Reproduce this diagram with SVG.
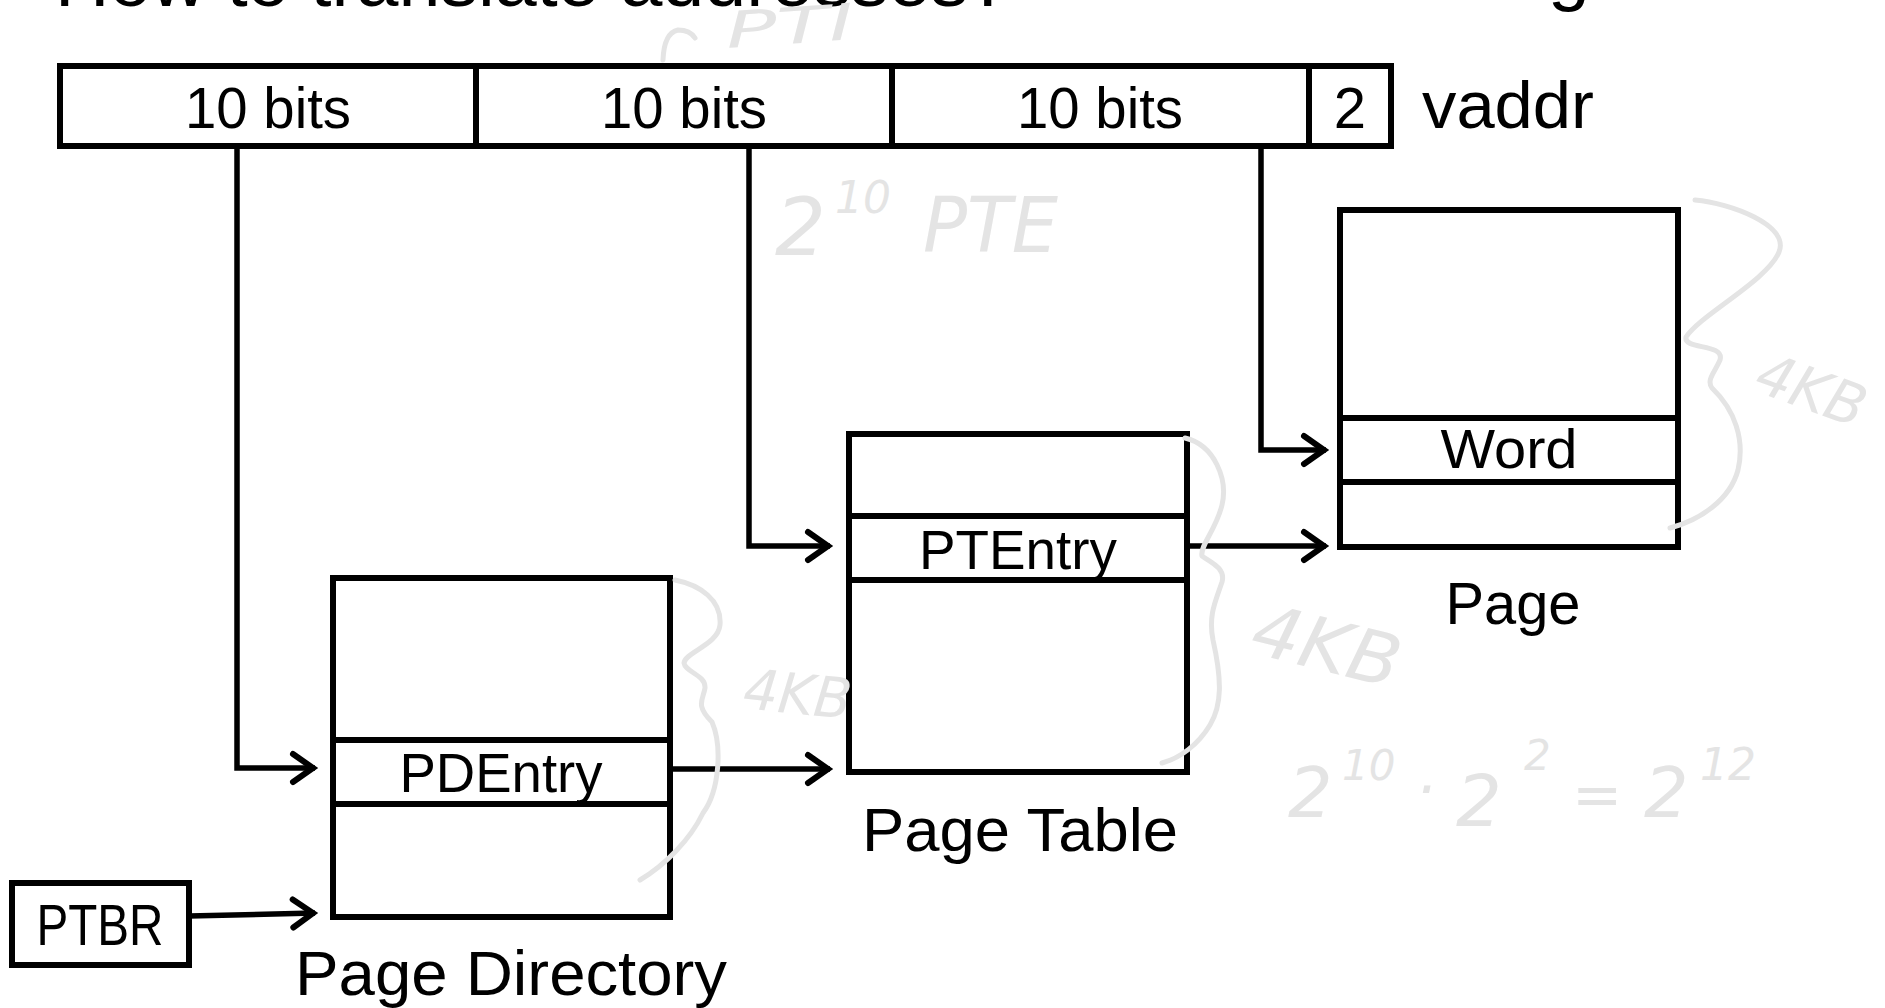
<svg xmlns="http://www.w3.org/2000/svg" width="1885" height="1008" viewBox="0 0 1885 1008">
<style>
  .bx{fill:#fff;stroke:#000;stroke-width:6;stroke-linejoin:miter}
  .ln{fill:none;stroke:#000;stroke-width:6}
  .cn{fill:none;stroke:#000;stroke-width:5.5;marker-end:url(#ah)}
  .t{font-family:"Liberation Sans",Arial,sans-serif;fill:#000;text-anchor:middle}
  .ts{font-family:"Liberation Sans",Arial,sans-serif;fill:#000}
  .hw{fill:none;stroke:#e4e4e4;stroke-width:5;stroke-linecap:round;stroke-linejoin:round}
  .hwt{font-family:"DejaVu Sans","Liberation Sans",sans-serif;font-style:italic;font-weight:200;fill:#e4e4e4}
</style>
<defs>
  <marker id="ah" markerUnits="userSpaceOnUse" markerWidth="34" markerHeight="36" viewBox="-30 -18 34 36" refX="0" refY="0" orient="auto">
    <path d="M-22,-14 L-2,0 L-22,14" fill="none" stroke="#000" stroke-width="6" stroke-linecap="round"/>
  </marker>
</defs>
<rect width="1885" height="1008" fill="#fff"/>

<g id="heading">
  <text class="ts" x="55" y="6" font-size="75" textLength="955" lengthAdjust="spacingAndGlyphs">How to translate addresses?</text>
  <text class="ts" x="1548" y="-3" font-size="75">g</text>
</g>

<g id="vaddr">
  <rect class="bx" x="60" y="66" width="1331" height="80"/>
  <line class="ln" x1="476" y1="66" x2="476" y2="146"/>
  <line class="ln" x1="892" y1="66" x2="892" y2="146"/>
  <line class="ln" x1="1309" y1="66" x2="1309" y2="146"/>
  <text class="t" x="268" y="128" font-size="58" textLength="166" lengthAdjust="spacingAndGlyphs">10 bits</text>
  <text class="t" x="684" y="128" font-size="58" textLength="166" lengthAdjust="spacingAndGlyphs">10 bits</text>
  <text class="t" x="1100" y="128" font-size="58" textLength="166" lengthAdjust="spacingAndGlyphs">10 bits</text>
  <text class="t" x="1350" y="128" font-size="58">2</text>
  <text class="ts" x="1422" y="128" font-size="66" textLength="172" lengthAdjust="spacingAndGlyphs">vaddr</text>
</g>

<g id="ptbr">
  <rect class="bx" x="12" y="883" width="177" height="82"/>
  <text class="t" x="100" y="945" font-size="57" textLength="127" lengthAdjust="spacingAndGlyphs">PTBR</text>
</g>

<g id="page-directory">
  <rect class="bx" x="333" y="578" width="337" height="339"/>
  <line class="ln" x1="333" y1="740" x2="670" y2="740"/>
  <line class="ln" x1="333" y1="804" x2="670" y2="804"/>
  <text class="t" x="501" y="792" font-size="56" textLength="203" lengthAdjust="spacingAndGlyphs">PDEntry</text>
  <text class="t" x="511" y="995" font-size="63" textLength="432" lengthAdjust="spacingAndGlyphs">Page Directory</text>
</g>

<g id="page-table">
  <rect class="bx" x="849" y="434" width="338" height="338"/>
  <line class="ln" x1="849" y1="516" x2="1187" y2="516"/>
  <line class="ln" x1="849" y1="580" x2="1187" y2="580"/>
  <text class="t" x="1018" y="569" font-size="56" textLength="198" lengthAdjust="spacingAndGlyphs">PTEntry</text>
  <text class="t" x="1020" y="851" font-size="61" textLength="316" lengthAdjust="spacingAndGlyphs">Page Table</text>
</g>

<g id="page">
  <rect class="bx" x="1340" y="210" width="338" height="337"/>
  <line class="ln" x1="1340" y1="418" x2="1678" y2="418"/>
  <line class="ln" x1="1340" y1="482" x2="1678" y2="482"/>
  <text class="t" x="1509" y="468" font-size="56" textLength="137" lengthAdjust="spacingAndGlyphs">Word</text>
  <text class="t" x="1513" y="624" font-size="60" textLength="135" lengthAdjust="spacingAndGlyphs">Page</text>
</g>

<g id="connectors">
  <polyline class="cn" points="237,146 237,768 315,768"/>
  <polyline class="cn" points="749,146 749,546 830,546"/>
  <polyline class="cn" points="1261,146 1261,450 1326,450"/>
  <line class="cn" x1="189" y1="916" x2="315" y2="913"/>
  <line class="cn" x1="670" y1="769" x2="830" y2="769"/>
  <line class="cn" x1="1187" y1="546" x2="1326" y2="546"/>
</g>

<g id="annotations">
  <path class="hw" d="M663,60 Q664,33 678,30 Q690,30 695,38"/>
  <text class="hwt" x="727" y="48" font-size="50" textLength="128" lengthAdjust="spacingAndGlyphs" transform="rotate(-4 727 48)">PTI</text>
  <text class="hwt" x="775" y="255" font-size="80">2</text>
  <text class="hwt" x="835" y="213" font-size="44">10</text>
  <text class="hwt" x="923" y="252" font-size="76" textLength="135" lengthAdjust="spacingAndGlyphs">PTE</text>
  <path class="hw" d="M1695,200 C1730,203 1790,225 1779,252 C1768,280 1700,315 1686,337 C1683,350 1725,343 1720,360 C1715,372 1706,380 1712,388 C1735,410 1745,440 1738,470 C1730,500 1700,520 1670,528"/>
  <text class="hwt" x="1752" y="390" font-size="58" textLength="112" lengthAdjust="spacingAndGlyphs" transform="rotate(20 1752 390)">4KB</text>
  <path class="hw" d="M1185,438 C1215,445 1228,480 1222,505 C1216,530 1200,545 1202,556 C1210,562 1226,568 1222,582 C1216,600 1208,615 1213,640 C1222,680 1222,705 1210,725 C1198,745 1180,758 1162,763"/>
  <text class="hwt" x="1248" y="652" font-size="72" textLength="150" lengthAdjust="spacingAndGlyphs" transform="rotate(14 1248 652)">4KB</text>
  <path class="hw" d="M675,580 C700,585 722,600 720,625 C718,645 685,652 684,663 C685,672 706,675 705,688 C703,700 695,705 712,722 C722,745 720,790 703,813 C690,840 665,865 640,880"/>
  <text class="hwt" x="742" y="708" font-size="56" textLength="108" lengthAdjust="spacingAndGlyphs" transform="rotate(6 742 708)">4KB</text>
  <text class="hwt" font-size="70"><tspan x="1288" y="817">2</tspan><tspan x="1342" y="780" font-size="42">10</tspan><tspan x="1416" y="810" font-size="60">·</tspan><tspan x="1456" y="826" font-size="72">2</tspan><tspan x="1524" y="770" font-size="42">2</tspan><tspan x="1572" y="815" font-size="60">=</tspan><tspan x="1644" y="817">2</tspan><tspan x="1700" y="780" font-size="44">12</tspan></text>
</g>
</svg>
